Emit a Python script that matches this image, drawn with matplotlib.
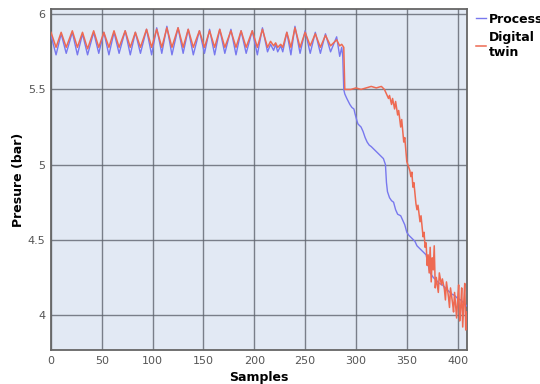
import matplotlib.pyplot as plt

# Sample index / pressure (bar) vertices
process_x = [0, 5, 10, 15, 21, 26, 31, 36, 42, 47, 52, 57, 62, 67, 73, 78, 83, 88,
             94, 99, 104, 109, 114, 119, 125, 130, 135, 140, 146, 151, 156, 161,
             166, 171, 177, 182, 187, 192, 198, 203, 208, 213, 216, 219, 221, 223,
             226, 228, 232, 236, 240, 245, 250, 255, 260, 265, 270, 275, 281, 284,
             286, 287, 288, 289, 291, 294, 296, 298, 299, 301, 302, 305, 307, 309,
             311, 313, 315, 318, 321, 324, 327, 329, 330, 331, 333, 335, 337, 339,
             341, 344, 346, 348, 350, 352, 355, 358, 360, 363, 366, 369, 371, 373,
             376, 379, 382, 385, 388, 391, 394, 397, 400, 403, 406, 409]
process_y = [5.86, 5.73, 5.87, 5.74, 5.88, 5.73, 5.87, 5.73, 5.88, 5.74, 5.88, 5.73,
             5.88, 5.74, 5.89, 5.73, 5.88, 5.74, 5.90, 5.73, 5.91, 5.74, 5.92, 5.73,
             5.91, 5.74, 5.90, 5.73, 5.89, 5.74, 5.90, 5.73, 5.90, 5.74, 5.90, 5.73,
             5.89, 5.74, 5.89, 5.73, 5.91, 5.75, 5.80, 5.76, 5.80, 5.75, 5.79, 5.75,
             5.88, 5.73, 5.92, 5.74, 5.89, 5.74, 5.88, 5.74, 5.87, 5.75, 5.85, 5.72,
             5.78, 5.72, 5.50, 5.47, 5.44, 5.40, 5.38, 5.37, 5.34, 5.29, 5.27, 5.25,
             5.22, 5.18, 5.15, 5.13, 5.12, 5.10, 5.08, 5.06, 5.04, 5.00, 4.88, 4.82,
             4.78, 4.76, 4.75, 4.70, 4.67, 4.66, 4.63, 4.60, 4.55, 4.53, 4.51, 4.49,
             4.46, 4.44, 4.42, 4.40, 4.33, 4.28, 4.25, 4.23, 4.21, 4.20, 4.18, 4.16,
             4.14, 4.13, 4.11, 4.10, 4.08, 4.06]

twin_x = [0, 5, 10, 15, 21, 26, 31, 36, 42, 47, 52, 57, 62, 67, 73, 78, 83, 88,
          94, 99, 104, 109, 114, 119, 125, 130, 135, 140, 146, 151, 156, 161,
          166, 171, 177, 182, 187, 192, 198, 203, 208, 213, 216, 219, 221, 223,
          226, 228, 232, 236, 240, 245, 250, 255, 260, 265, 270, 275, 281, 284,
          286, 288, 289, 295, 300, 305, 310, 315, 320, 325, 328, 330, 332, 333,
          335, 336, 338, 339, 341, 342, 344, 345, 347, 348, 350, 351, 353, 354,
          355, 356, 357, 359, 360, 361, 363, 364, 366, 367, 368, 369, 370, 371,
          372, 373, 374, 375, 376, 377, 378, 379, 381, 382, 384, 385, 387, 388,
          389, 391, 392, 393, 395, 396, 397, 399, 400, 401, 402, 403, 404, 405,
          406, 407, 408, 409]
twin_y = [5.88, 5.78, 5.88, 5.78, 5.89, 5.78, 5.88, 5.77, 5.89, 5.78, 5.88, 5.78,
          5.89, 5.78, 5.89, 5.78, 5.88, 5.78, 5.90, 5.78, 5.90, 5.78, 5.91, 5.78,
          5.91, 5.78, 5.90, 5.78, 5.89, 5.78, 5.89, 5.78, 5.90, 5.78, 5.89, 5.78,
          5.89, 5.78, 5.89, 5.78, 5.90, 5.78, 5.82, 5.79, 5.81, 5.78, 5.80, 5.78,
          5.88, 5.78, 5.91, 5.78, 5.88, 5.79, 5.87, 5.78, 5.86, 5.79, 5.83, 5.79,
          5.80, 5.78, 5.50, 5.50, 5.51, 5.50, 5.51, 5.52, 5.51, 5.52, 5.50, 5.47,
          5.44, 5.46, 5.40, 5.44, 5.37, 5.42, 5.33, 5.36, 5.25, 5.30, 5.15, 5.18,
          5.02, 5.00, 4.96, 4.92, 4.95, 4.85, 4.88, 4.74, 4.70, 4.73, 4.62, 4.66,
          4.52, 4.55, 4.45, 4.48, 4.33, 4.40, 4.28, 4.45, 4.22, 4.38, 4.30, 4.46,
          4.18, 4.25, 4.15, 4.28, 4.20, 4.24, 4.17, 4.10, 4.22, 4.12, 4.05, 4.18,
          4.08, 4.02, 4.15, 3.98, 4.10, 4.20, 3.96, 4.05, 4.18, 3.92, 4.08, 4.21,
          3.90, 4.02]

x_ticks = [0, 50, 100, 150, 200, 250, 300, 350, 400]
y_ticks = [4, 4.5, 5, 5.5, 6]
y_tick_labels = ['4', '4.5', '5', '5.5', '6']

fig = plt.figure(figsize=(5.4, 3.84), dpi=100)
ax = fig.add_axes([0.0944, 0.0885, 0.770, 0.8873])
ax.set_facecolor('#e2e9f4')

ax.plot(process_x, process_y, color='#7878ee', linewidth=1.0, label='Process', zorder=3)
ax.plot(twin_x, twin_y, color='#ee6a52', linewidth=1.1, label='Digital\ntwin', zorder=4)

ax.set_xlim(0, 409)
ax.set_ylim(3.767, 6.033)
ax.set_xticks(x_ticks)
ax.set_yticks(y_ticks)
ax.set_yticklabels(y_tick_labels)
ax.tick_params(length=0, labelsize=8, labelcolor='#555555', pad=4)
ax.grid(True, color='#5f646e', linewidth=1.0, alpha=0.8)
ax.set_axisbelow(True)

for side in ['left', 'bottom', 'right', 'top']:
    ax.spines[side].set_color('#666666')
    ax.spines[side].set_linewidth(1.3)

ax.set_xlabel('Samples', fontsize=9, fontweight='bold', labelpad=4)
ax.set_ylabel('Presure (bar)', fontsize=9, fontweight='bold', labelpad=2)

fig.legend(loc='upper left', bbox_to_anchor=(0.872, 0.98), frameon=False,
           handlelength=0.8, handletextpad=0.25, labelspacing=0.45,
           borderaxespad=0, prop={'weight': 'bold', 'size': 9})

fig.savefig('out.png', dpi=100)
